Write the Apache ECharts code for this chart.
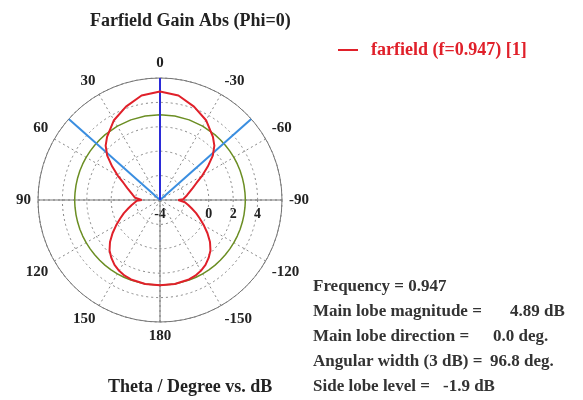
<!DOCTYPE html>
<html>
<head>
<meta charset="utf-8">
<script src="https://cdn.jsdelivr.net/npm/echarts@6/dist/echarts.min.js"></script>
<style>
  html, body { margin: 0; padding: 0; background: #fff; }
  #chart { width: 583px; height: 400px; }
</style>
</head>
<body>
<div id="chart"></div>
<script>
// Farfield cut at Phi = 0, theta in degrees, gain in dB
const thetaDeg = [
  -180, -170, -160, -155, -150, -145, -140, -135, -130, -125, -120, -115, -110, -105, -100, -95, -92, -90, -88, -85,
  -80, -75, -70, -65, -60, -55, -50, -45, -40, -30, -20, -10,
  0, 10, 20, 30, 40, 45, 50, 55, 60, 65, 70, 75, 80,
  85, 88, 90, 92, 95, 100, 105, 110, 115, 120, 125, 130, 135, 140, 145, 150, 155, 160, 170, 180
];
const gainDb = [
  2.99, 2.99, 2.93, 2.85, 2.70, 2.50, 2.20, 1.85, 1.35, 0.75, 0.15, -0.40, -0.85, -1.30, -1.65, -1.95, -2.10, -2.50, -2.10, -1.95,
  -1.75, -1.50, -1.15, -0.70, 0.00, 0.78, 1.65, 2.30, 2.75, 3.55, 4.15, 4.70,
  4.89, 4.70, 4.15, 3.55, 2.75, 2.30, 1.65, 0.78, 0.00, -0.70, -1.15, -1.50, -1.75,
  -1.95, -2.10, -2.50, -2.10, -1.95, -1.65, -1.30, -0.85, -0.40, 0.15, 0.75, 1.35, 1.85, 2.20, 2.50, 2.70, 2.85, 2.93, 2.99, 2.99
];

// Radial scale (dB) and angular tick step
const radiusMin = -4;
const radiusMax = 6;
const radiusStep = 2;
const radiusLabels = [-4, 0, 2, 4];
const angleStep = 30;

// Summary values
const frequency = 0.947;
const mainLobeMagnitude = 4.89;
const mainLobeDirection = 0.0;
const angularWidth3dB = 96.8;
const sideLobeLevel = -1.9;

const seriesName = 'farfield (f=' + frequency + ') [1]';
const serif = '"Liberation Serif", "Times New Roman", serif';
const infoFont = 'bold 17px ' + serif;

// theta (0 at top, positive counter-clockwise) -> polar angle value (0 at right)
function toAngle(theta) {
  let a = theta + 90;
  a = ((a % 360) + 360) % 360;
  return a;
}
function fromAngle(a) {
  let t = a - 90;
  if (t > 180) t -= 360;
  if (t <= -180) t += 360;
  return t;
}

const patternData = thetaDeg.map((t, i) => [gainDb[i], toAngle(t)]);
const sideLobeDb = mainLobeMagnitude + sideLobeLevel;
const sideLobeCircle = thetaDeg.map(t => [sideLobeDb, toAngle(t)]);

function ray(theta) {
  return [[radiusMin, toAngle(theta)], [radiusMax, toAngle(theta)]];
}

function infoText(x, y, text) {
  return { type: 'text', x: x, y: y,
    style: { text: text, fill: '#333', font: infoFont, textVerticalAlign: 'middle' } };
}

const chart = echarts.init(document.getElementById('chart'), null, { renderer: 'canvas' });

const option = {
  animation: false,
  backgroundColor: '#ffffff',
  title: {
    text: 'Farfield Gain Abs (Phi=0)',
    left: 85,
    top: 7,
    textStyle: { fontFamily: serif, fontWeight: 'bold', fontSize: 18, color: '#222' }
  },
  legend: {
    data: [seriesName],
    left: 333,
    top: 36,
    icon: 'rect',
    itemWidth: 20,
    itemHeight: 2,
    itemGap: 10,
    textStyle: { fontFamily: serif, fontWeight: 'bold', fontSize: 18, color: '#e0202a', padding: [0, 0, 0, 8] }
  },
  polar: {
    center: [160, 200],
    radius: 122
  },
  angleAxis: {
    type: 'value',
    min: 0,
    max: 360,
    interval: angleStep,
    startAngle: 0,
    clockwise: false,
    axisLine: { show: true, lineStyle: { color: '#777', width: 1 } },
    axisTick: { show: false },
    axisLabel: {
      show: true,
      margin: 7,
      fontFamily: serif,
      fontWeight: 'bold',
      fontSize: 15,
      color: '#222',
      formatter: v => (v >= 360 ? '' : String(fromAngle(v)))
    },
    splitLine: { show: true, lineStyle: { color: '#888', type: [2, 3], width: 1 } }
  },
  radiusAxis: {
    type: 'value',
    min: radiusMin,
    max: radiusMax,
    interval: radiusStep,
    axisLine: { show: false },
    axisTick: { show: false },
    axisLabel: {
      show: true,
      margin: -7,
      verticalAlign: 'top',
      fontFamily: serif,
      fontWeight: 'bold',
      fontSize: 14,
      color: '#222',
      formatter: v => (radiusLabels.indexOf(v) >= 0 ? String(v) : '')
    },
    splitLine: { show: true, lineStyle: { color: '#888', type: [2, 3], width: 1 } }
  },
  series: [
    // solid axes through the centre
    { type: 'line', coordinateSystem: 'polar', data: ray(90), symbol: 'none', silent: true,
      lineStyle: { color: '#777', width: 1 }, z: 2 },
    { type: 'line', coordinateSystem: 'polar', data: ray(-90), symbol: 'none', silent: true,
      lineStyle: { color: '#777', width: 1 }, z: 2 },
    { type: 'line', coordinateSystem: 'polar', data: ray(180), symbol: 'none', silent: true,
      lineStyle: { color: '#777', width: 1 }, z: 2 },
    // side lobe level circle
    { type: 'line', coordinateSystem: 'polar', data: sideLobeCircle, symbol: 'none', silent: true,
      lineStyle: { color: '#6b8e23', width: 1.5 }, z: 3 },
    // 3 dB beam width limits
    { type: 'line', coordinateSystem: 'polar', data: ray(angularWidth3dB / 2), symbol: 'none', silent: true,
      lineStyle: { color: '#3a8ee0', width: 2 }, z: 4 },
    { type: 'line', coordinateSystem: 'polar', data: ray(-angularWidth3dB / 2), symbol: 'none', silent: true,
      lineStyle: { color: '#3a8ee0', width: 2 }, z: 4 },
    // main lobe direction
    { type: 'line', coordinateSystem: 'polar', data: ray(mainLobeDirection), symbol: 'none', silent: true,
      lineStyle: { color: '#2b2bd8', width: 2 }, z: 4 },
    // gain pattern
    { name: seriesName, type: 'line', coordinateSystem: 'polar', data: patternData, symbol: 'none',
      lineStyle: { color: '#e0202a', width: 2 }, itemStyle: { color: '#e0202a' }, z: 5 }
  ],
  graphic: [
    { type: 'text', x: 108, y: 387,
      style: { text: 'Theta / Degree vs. dB', fill: '#222', font: 'bold 18px ' + serif, textVerticalAlign: 'middle' } },
    infoText(313, 287, 'Frequency = ' + frequency),
    infoText(313, 312, 'Main lobe magnitude ='),
    infoText(510, 312, mainLobeMagnitude.toFixed(2) + ' dB'),
    infoText(313, 337, 'Main lobe direction ='),
    infoText(493, 337, mainLobeDirection.toFixed(1) + ' deg.'),
    infoText(313, 362, 'Angular width (3 dB) ='),
    infoText(490, 362, angularWidth3dB.toFixed(1) + ' deg.'),
    infoText(313, 387, 'Side lobe level ='),
    infoText(443, 387, sideLobeLevel.toFixed(1) + ' dB')
  ]
};

chart.setOption(option);
</script>
</body>
</html>
